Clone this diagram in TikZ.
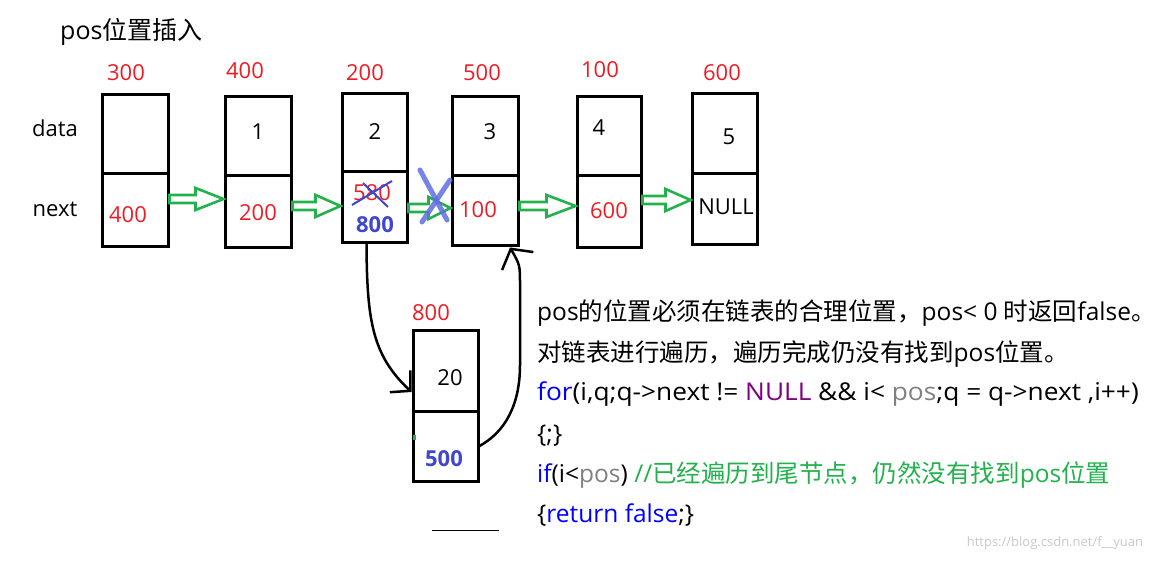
\documentclass[tikz,border=0pt]{standalone}
\usepackage{fontspec}
\usepackage{graphicx}
\setmainfont{Open Sans}
\newfontfamily\cjk{Noto Sans CJK SC}
\usetikzlibrary{arrows.meta,calc}
\definecolor{myred}{RGB}{237,28,36}
\definecolor{mygreen}{RGB}{34,177,76}
\definecolor{myblue}{RGB}{63,72,204}
\definecolor{xblue}{RGB}{95,110,225}
\definecolor{codeblue}{RGB}{0,0,255}
\definecolor{codepurple}{RGB}{128,0,128}
\definecolor{codegray}{RGB}{128,128,128}
\definecolor{codegreen}{RGB}{34,177,76}
\definecolor{wmgray}{RGB}{200,200,200}
\newcommand\cellpair[6]{%
  \node[cell, minimum width={#3-#2}, minimum height={#5-#4}] (#1d) at ({(#2+#3)/2},{(#4+#5)/2}) {};
  \node[cell, minimum width={#3-#2}, minimum height={#6-#5}] (#1n) at ({(#2+#3)/2},{(#5+#6)/2}) {};}
\newcommand\garrow[4]{%
  \draw[garrowst] let \p1=(#1.east), \p2=(#2.west) in
   ({\x1},{-#3pt+4pt}) -- ({\x2-#4pt},{-#3pt+4pt}) -- ({\x2-#4pt},{-#3pt+11pt}) --
   ({\x2},{-#3pt}) -- ({\x2-#4pt},{-#3pt-11pt}) -- ({\x2-#4pt},{-#3pt-4pt}) --
   ({\x1},{-#3pt-4pt}) -- cycle;}
\begin{document}
\begin{tikzpicture}[x=1pt,y=-1pt,
  every node/.style={font=\fontsize{22}{26}\selectfont, inner sep=1pt},
  cell/.style={draw, line width=3pt, inner sep=0pt},
  addr/.style={text=myred},
  garrowst/.style={draw=mygreen, line width=2.6pt, line join=miter, fill=white},
  curvearrow/.style={draw=black, line width=2.5pt, line cap=round},
  xmark/.style={draw=xblue, line width=5pt, line cap=round, opacity=0.85},
  strike/.style={draw=myblue, line width=2pt},
  codeline/.style={anchor=base west, inner sep=0pt, font=\fontsize{24.5}{28}\selectfont}]
\useasboundingbox (0,0) rectangle (1162,561);
% title and row labels
\node[anchor=west, inner sep=0pt, font=\fontsize{25}{28}\selectfont] (title) at (60,32) {pos{\cjk 位置插入}};
\node (datalbl) at (55,128) {data};
\node (nextlbl) at (55,209) {next};
% boxes
\cellpair{A}{102}{168}{95}{174}{247}
\cellpair{B}{225}{291}{97}{176}{248}
\cellpair{C}{342}{407}{94}{172}{243}
\cellpair{D}{452}{518}{97}{176}{246}
\cellpair{E}{577}{641}{97}{176}{248}
\cellpair{F}{692}{757}{94}{174}{245}
\cellpair{G}{413}{478}{331}{411}{481}
% addresses
\node[addr] (adA) at (126,73) {300};
\node[addr] (adB) at (245,71) {400};
\node[addr] (adC) at (365,73) {200};
\node[addr] (adD) at (482,73) {500};
\node[addr] (adE) at (600,70) {100};
\node[addr] (adF) at (722,73) {600};
\node[addr] (adG) at (431,313) {800};
% data values
\node (vB) at (258,132) {1};
\node (vC) at (375,132) {2};
\node (vD) at (490,132) {3};
\node (vE) at (599,128) {4};
\node (vF) at (729,137) {5};
\node (vG) at (450,378) {20};
% next values
\node[addr] (nA) at (128,215) {400};
\node[addr] (nB) at (258,213) {200};
\node[addr] (nCold) at (372,193) {580};
\node[text=myblue, font=\fontsize{22}{26}\selectfont\bfseries] (nCnew) at (375,225) {800};
\node[addr] (nD) at (478,210) {100};
\node[addr] (nE) at (609,211) {600};
\node (nF) at (726,207) {NULL};
\node[text=myblue, font=\fontsize{22}{26}\selectfont\bfseries] (nG) at (444,459) {500};
\fill[mygreen] (413,435) rectangle (416,440);
% strike of 580
\draw[strike] (352,205) -- (392,181);
\draw[strike] (363,183) -- (388,207);
% green arrows
\garrow{An}{Bn}{199}{28}
\garrow{Bn}{Cn}{206}{25}
\garrow{Cn}{Dn}{208}{22}
\garrow{Dn}{En}{206}{29}
\garrow{En}{Fn}{200}{25}
% blue cross over the old link
\draw[xmark] (420,170) -- (447,220);
\draw[xmark] (450,180) -- (422,222);
% curved arrows
\coordinate (c1s) at ([xshift=-8pt]Cn.south);
\coordinate (c1e) at ([yshift=-21pt]Gd.west);
\draw[curvearrow, -{Straight Barb[length=14pt,width=30pt,line width=2.5pt]}]
  (c1s) .. controls (367,320) and (372,355) .. (c1e);
\coordinate (c2e) at ([xshift=25pt]Dn.south);
\draw[curvearrow, -{Straight Barb[length=14pt,width=36pt,line width=2.5pt]}]
  (Gn.east) .. controls (505,432) and (520,405) .. (520,365) -- (520,285) .. controls (520,265) .. (c2e);
% short line under the new node
\draw[line width=1pt] (432,530) coordinate (ulA) -- (499,530) coordinate (ulB);
% explanation text
\node[codeline] (t1) at (537,320) {pos{\cjk 的位置必须在链表的合理位置，}pos< 0 {\cjk 时返回}false{\cjk 。}};
\node[codeline] (t2) at (537,361) {{\cjk 对链表进行遍历，遍历完成仍没有找到}pos{\cjk 位置。}};
\node[codeline] (t3) at (537,400) {\scalebox{1.072}[1]{\textcolor{codeblue}{for}(i,q;q->next != \textcolor{codepurple}{NULL} \&\& i< \textcolor{codegray}{pos};q = q->next ,i++)}};
\node[codeline] (t4) at (537,442) {\{;\}};
\node[codeline] (t5) at (537,482) {\textcolor{codeblue}{if}(i<\textcolor{codegray}{pos}) \textcolor{codegreen}{//{\cjk 已经遍历到尾节点，仍然没有找到}pos{\cjk 位置}}};
\node[codeline] (t6) at (537,522) {\{\textcolor{codeblue}{return false};\}};
\node[text=wmgray, font=\fontsize{13}{15}\selectfont] (wm) at (1055,543) {https://blog.csdn.net/f\_\_yuan};
\end{tikzpicture}
\end{document}
